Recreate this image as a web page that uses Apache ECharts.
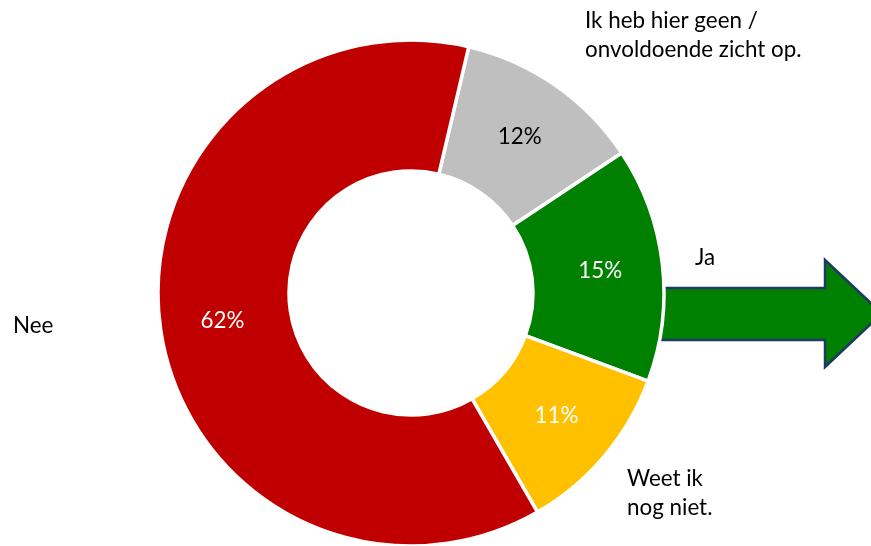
<!DOCTYPE html>
<html>
<head>
<meta charset="utf-8">
<script src="https://cdn.jsdelivr.net/npm/echarts@6/dist/echarts.min.js"></script>
<style>
html,body{margin:0;padding:0;background:#fff;}
#chart{width:871px;height:546px;}
</style>
</head>
<body>
<div id="chart"></div>
<script>
var categories = ['Ik heb hier geen /\nonvoldoende zicht op.', 'Ja', 'Weet ik\nnog niet.', 'Nee'];
var values = [12, 15, 11, 62];
var sliceColors = ['#BFBFBF', '#008000', '#FFC000', '#C00000'];
var pctColors = ['#000000', '#FFFFFF', '#FFFFFF', '#FFFFFF'];
var nameLabelPos = [[585, 20], [695, 257], [627, 478], [13, 325]];

var FONT = 'Lato';
var chart = echarts.init(document.getElementById('chart'));

var data = categories.map(function (c, i) {
  return {
    name: c, value: values[i],
    itemStyle: { color: sliceColors[i] },
    label: { color: pctColors[i] }
  };
});

var graphics = [{
  type: 'polygon', z: 0,
  shape: { points: [[640, 288], [825, 288], [825, 260], [882, 313.5], [825, 367], [825, 340], [640, 340]] },
  style: { fill: '#008000', stroke: '#1F3864', lineWidth: 2.5 }
}];
categories.forEach(function (c, i) {
  graphics.push({
    type: 'text', z: 5,
    x: nameLabelPos[i][0], y: nameLabelPos[i][1] - 14,
    style: { text: c, font: '22.4px ' + FONT, fill: '#000', lineHeight: 29, textVerticalAlign: 'top' }
  });
});

chart.setOption({
  backgroundColor: '#fff',
  animation: false,
  graphic: graphics,
  series: [{
    type: 'pie', z: 2,
    center: [411, 293],
    radius: [122, 253],
    startAngle: 76.8,
    clockwise: true,
    avoidLabelOverlap: false,
    itemStyle: { borderColor: '#fff', borderWidth: 3.5 },
    label: {
      show: true, position: 'inside',
      formatter: function (p) { return p.value + '%'; },
      fontFamily: FONT, fontSize: 22.4
    },
    labelLine: { show: false },
    emphasis: { disabled: true },
    data: data
  }]
});
</script>
</body>
</html>
